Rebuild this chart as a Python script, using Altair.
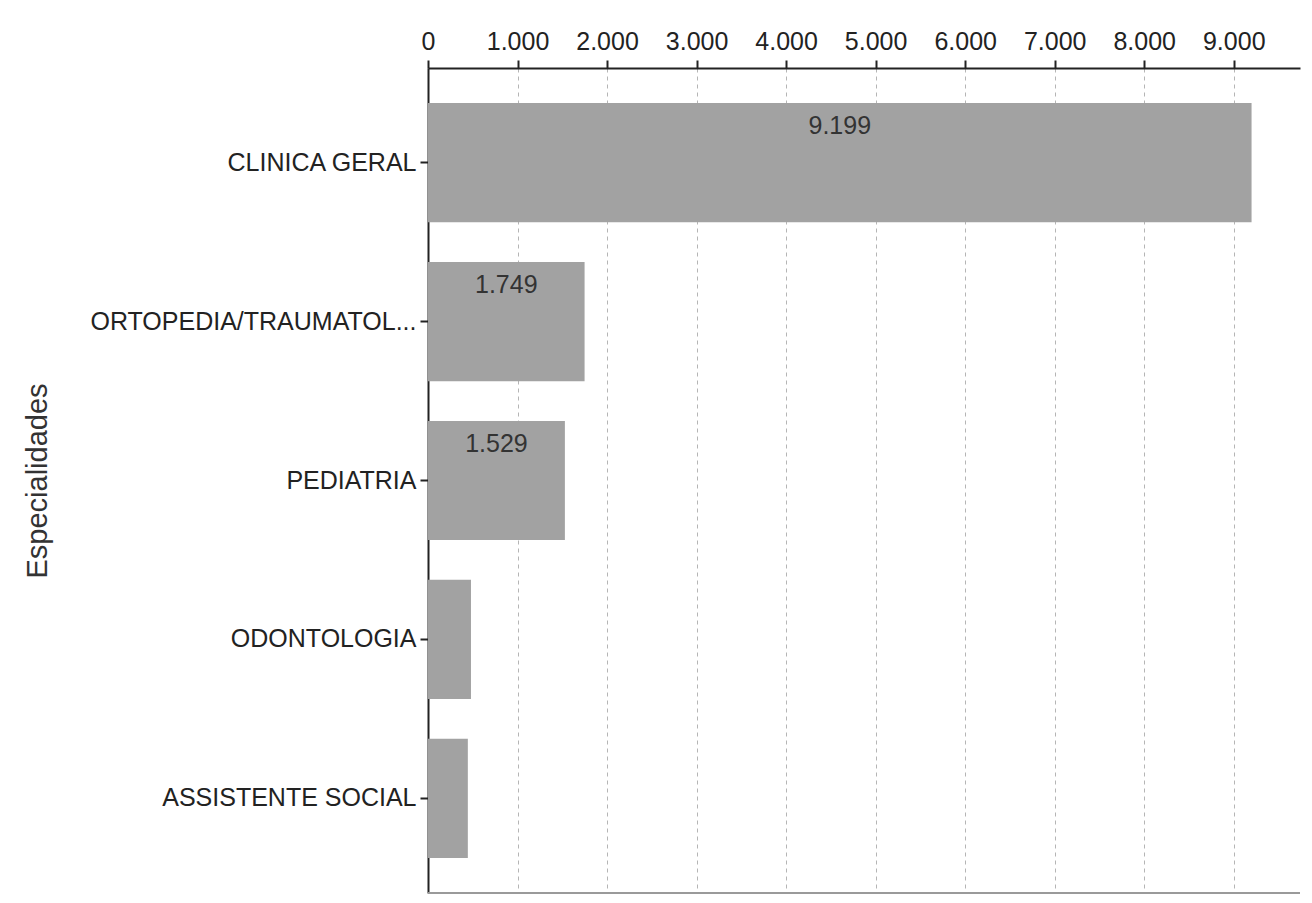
import altair as alt
import pandas as pd

categories = ["CLINICA GERAL", "ORTOPEDIA/TRAUMATOL...", "PEDIATRIA", "ODONTOLOGIA", "ASSISTENTE SOCIAL"]
values = [9199, 1749, 1529, 480, 445]
x_ticks = [0, 1000, 2000, 3000, 4000, 5000, 6000, 7000, 8000, 9000]

df = pd.DataFrame({"cat": categories, "value": values})

FONT = "Liberation Sans"

y_enc = alt.Y(
    "cat:N",
    sort=categories,
    scale=alt.Scale(paddingInner=0.25, paddingOuter=0.22),
    axis=alt.Axis(
        title="Especialidades",
        titleFontSize=29,
        titleFont=FONT,
        titleFontWeight="normal",
        titleColor="#333333",
        titlePadding=176,
        labelFontSize=25,
        labelFont=FONT,
        labelColor="#222222",
        labelPadding=4,
        labelLimit=500,
        tickSize=8,
        tickColor="#222222",
        tickWidth=2,
        domainColor="#222222",
        domainWidth=2,
        grid=False,
    ),
)

x_scale = alt.Scale(domain=[0, 9740], nice=False)

bars = alt.Chart(df).mark_bar(color="#a2a2a2").encode(
    x=alt.X(
        "value:Q",
        scale=x_scale,
        axis=alt.Axis(
            orient="top",
            title=None,
            values=x_ticks,
            labelExpr="replace(format(datum.value, ','), ',', '.')",
            labelFlush=False,
            labelFontSize=25,
            labelFont=FONT,
            labelColor="#222222",
            labelPadding=6,
            tickSize=8,
            tickColor="#222222",
            tickWidth=2,
            domainColor="#222222",
            domainWidth=2,
            grid=True,
            gridDash=[4, 4],
            gridColor="#b5b5b5",
            gridWidth=1,
        ),
    ),
    y=y_enc,
)

bottom = alt.Chart(df).mark_rule(color="#9a9a9a", strokeWidth=1.5).encode(
    x=alt.value(0), x2=alt.value(872), y=alt.value(825)
)

texts = alt.Chart(df).transform_filter("datum.value > 1000").transform_calculate(
    lbl="replace(format(datum.value, ','), ',', '.')",
    mid="datum.value / 2",
).mark_text(fontSize=25, font=FONT, color="#333333", dy=-37, baseline="middle").encode(
    x=alt.X("mid:Q", scale=x_scale),
    y=alt.Y("cat:N", sort=categories),
    text="lbl:N",
)

chart = alt.layer(bars, bottom, texts).properties(
    width=872,
    height=825,
    padding={"left": 420, "top": 60, "right": 4, "bottom": 5},
    autosize=alt.AutoSizeParams(type="none"),
    background="white",
).configure_view(stroke=None)

chart.save("out.html", embed_options={"renderer": "svg", "actions": False})
